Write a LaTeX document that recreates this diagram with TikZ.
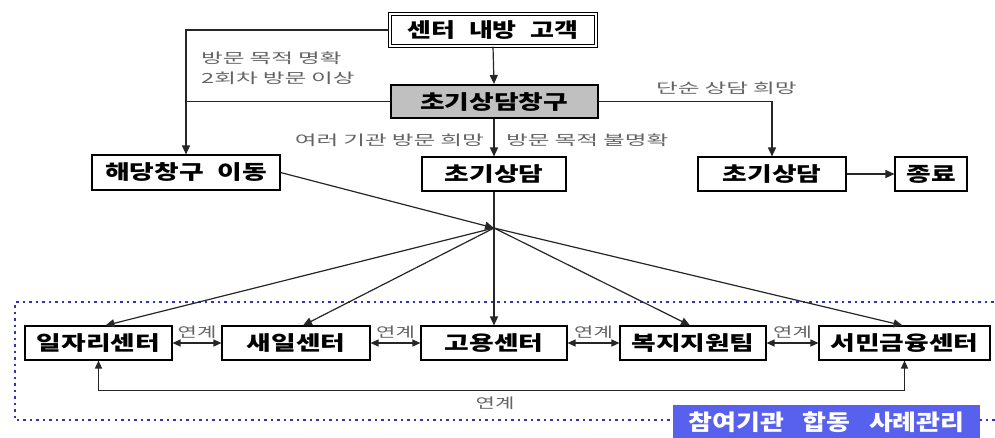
\documentclass[tikz,border=0pt]{standalone}
\usepackage{fontspec}
\usetikzlibrary{arrows.meta,calc}
\newfontfamily\krboxfont{Noto Sans CJK KR}[FakeStretch=1.34]
\newfontfamily\krtopfont{Noto Sans CJK KR}[FakeStretch=1.3]
\newfontfamily\krlabfont{Noto Sans CJK KR}[FakeStretch=1.69]
\newfontfamily\krsmallfont{Noto Sans CJK KR}[FakeStretch=1.5]
\newfontfamily\krtagfont{Noto Sans CJK KR}[FakeStretch=1.18]
\newcommand\myboxfnt{\krboxfont\bfseries\fontsize{20}{22}\selectfont\spaceskip=0.7em\relax}
\newcommand\mytopfnt{\krtopfont\bfseries\fontsize{20}{22}\selectfont\spaceskip=0.7em\relax}
\newcommand\mylabfnt{\krlabfont\fontsize{14}{16}\selectfont\spaceskip=0.35em\relax}
\newcommand\mysmallfnt{\krsmallfont\fontsize{14}{16}\selectfont}
\newcommand\mytagfnt{\krtagfont\bfseries\fontsize{22}{24}\selectfont\spaceskip=0.85em\relax}
\definecolor{labgray}{RGB}{100,100,100}
\definecolor{boxgray}{RGB}{192,192,192}
\definecolor{dotblue}{RGB}{50,50,190}
\definecolor{tagblue}{RGB}{88,96,238}
\tikzset{
  box/.style={draw=black, line width=1.1pt, fill=white, inner sep=0pt,
    minimum height=34pt, font=\myboxfnt},
  lab/.style={inner sep=0pt, text=labgray, font=\mylabfnt},
  smalllab/.style={inner sep=0pt, text=labgray, font=\mysmallfnt},
  arr/.style={-{Triangle[length=9pt,width=8pt]}, line width=1.2pt, draw=black!85},
  darr/.style={{Triangle[length=8pt,width=7pt]}-{Triangle[length=8pt,width=7pt]}, line width=1.2pt, draw=black!85},
  ln/.style={line width=1.2pt, draw=black!85}
}
\begin{document}
\begin{tikzpicture}[x=1pt,y=-1pt]
\useasboundingbox (0,0) rectangle (995,437);
\fill[white] (0,0) rectangle (995,437);

% dotted frame
\draw[dotblue, line width=2pt, dash pattern=on 2.5pt off 4pt] (1000,302) -- (15,302) -- (15,420) -- (1000,420);

% top nodes
\node[box, minimum width=206pt, minimum height=32pt, double, double distance=2.2pt, line width=1.1pt,
  font=\mytopfnt] (top) at (493,30) {센터 내방 고객};
\node[box, fill=boxgray, line width=2pt, minimum width=207pt, minimum height=33pt] (win) at (494,101.5) {초기상담창구};
\node[box, minimum width=188pt, minimum height=35pt] (hd) at (186,172.5) {해당창구 이동};
\node[box, minimum width=144pt] (mid) at (494,174) {초기상담};
\node[box, minimum width=148pt] (rc) at (772,174) {초기상담};
\node[box, minimum width=72pt] (end) at (931,174) {종료};

% bottom nodes
\node[box, minimum width=147pt] (b1) at (98.5,343) {일자리센터};
\node[box, minimum width=148pt] (b2) at (296,343) {새일센터};
\node[box, minimum width=146pt] (b3) at (494,343) {고용센터};
\node[box, minimum width=146pt] (b4) at (693,343) {복지지원팀};
\node[box, minimum width=171pt] (b5) at (904.5,343) {서민금융센터};

\coordinate (j) at (494,228);

% top connectors
\draw[arr] (top.south) -- (win.north);
\draw[arr] (top.west) -| (hd.north);
\draw[ln] (win.west) -- (hd.north |- win.west);
\draw[arr] (win.south) -- (mid.north);
\draw[arr] (win.east) -| (rc.north);
\draw[arr] (rc.east) -- (end.west);

% labels
\node[lab, anchor=west] (l1) at (201,58) {방문 목적 명확};
\node[lab, anchor=west] (l2) at (201,78) {2회차 방문 이상};
\node[lab, anchor=east] (l3) at (484,140) {여러 기관 방문 희망};
\node[lab, anchor=west] (l4) at (506,140) {방문 목적 불명확};
\node[lab, anchor=west] (l5) at (656,88) {단순 상담 희망};

% junction
\draw[ln] (mid.south) -- (j);
\draw[arr] (hd.east) -- (j);
\draw[arr] (j) -- ([xshift=7pt]b1.north);
\draw[arr] (j) -- ([xshift=7pt]b2.north);
\draw[arr] (j) -- (b3.north);
\draw[arr] (j) -- ([xshift=-3pt]b4.north);
\draw[arr] (j) -- ([xshift=-2pt]b5.north);

% links between bottom boxes
\draw[darr] (b1.east) -- (b2.west) node[smalllab, midway, above=4pt] (k1) {연계};
\draw[darr] (b2.east) -- (b3.west) node[smalllab, midway, above=4pt] (k2) {연계};
\draw[darr] (b3.east) -- (b4.west) node[smalllab, midway, above=4pt] (k3) {연계};
\draw[darr] (b4.east) -- (b5.west) node[smalllab, midway, above=4pt] (k4) {연계};

% bottom loop
\draw[darr] (b1.south) -- ++(0,30) -| (b5.south);
\node[smalllab] (k5) at (495,403) {연계};

% tag
\node[fill=tagblue, inner sep=0pt, minimum width=307pt, minimum height=34pt, anchor=north,
  text=white, font=\mytagfnt] (tag) at (826.5,405) {참여기관 합동 사례관리};
\end{tikzpicture}
\end{document}
